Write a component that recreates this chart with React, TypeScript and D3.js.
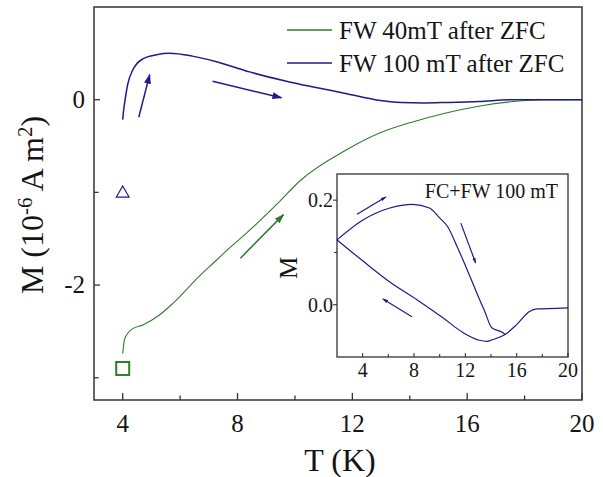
import React from 'react';
import * as d3 from 'd3';

// main panel: FW curves after ZFC
const blueT = [4.0, 4.03, 4.07, 4.17, 4.35, 4.7, 5.18, 5.63, 6.43, 7.27, 8.42, 9.7, 10.6, 11.8, 12.9, 13.7, 14.5, 15.3, 16.4, 17.6, 18.5, 20];
const blueM = [-0.215, -0.12, -0.03, 0.16, 0.32, 0.44, 0.485, 0.5, 0.47, 0.41, 0.3, 0.2, 0.14, 0.065, -0.005, -0.03, -0.035, -0.03, -0.02, 0, 0, 0];

const greenT = [4.0, 4.07, 4.35, 4.7, 5.29, 5.74, 6.68, 7.13, 7.83, 8.31, 9.46, 10.16, 11.8, 12.95, 14.1, 15.3, 16.4, 17.6, 18.7, 20];
const greenM = [-2.74, -2.58, -2.47, -2.43, -2.32, -2.2, -1.9, -1.77, -1.57, -1.44, -1.1, -0.88, -0.54, -0.36, -0.24, -0.14, -0.07, -0.02, 0, 0];

// inset: FC + FW 100 mT
const fcT = [2, 4.02, 6.12, 7.9, 9.2, 10.0, 10.6, 11.4, 12.0, 12.5, 12.9, 13.5, 14.06, 14.9, 15.1];
const fcM = [0.124, 0.162, 0.185, 0.192, 0.185, 0.166, 0.15, 0.109, 0.075, 0.046, 0.022, -0.012, -0.044, -0.053, -0.057];
const fwT = [2, 4.0, 6.2, 8.2, 10.25, 11.8, 13.1, 13.7, 14.1, 15.1, 16.0, 17.0, 17.6, 19.1, 20];
const fwM = [0.124, 0.084, 0.042, 0.01, -0.025, -0.053, -0.068, -0.07, -0.067, -0.057, -0.038, -0.013, -0.008, -0.007, -0.006];

// arrows [x1, y1, x2, y2] in data units
const mainArrows = [
  { c: '#1c1c8a', p: [4.56, -0.19, 4.94, 0.27] },
  { c: '#1c1c8a', p: [7.13, 0.2, 9.53, 0.02] },
  { c: '#2e7d2e', p: [8.1, -1.71, 9.6, -1.24] },
];
const insetArrows = [
  [3.56, 0.173, 5.8, 0.206],
  [11.65, 0.156, 12.8, 0.08],
  [7.84, -0.023, 5.58, 0.011],
];

const xTicks = [4, 8, 12, 16, 20];
const xMinor = [6, 10, 14, 18];
const yTicks = [0, -2];
const yMinor = [-1, -3];
const inXTicks = [4, 8, 12, 16, 20];
const inXMinor = [6, 10, 14, 18];
const inYTicks = [0.0, 0.2];
const inYMinor = [0.1];

const legend = [
  { label: 'FW 40mT after ZFC', color: '#2e7d2e' },
  { label: 'FW 100 mT after ZFC', color: '#1c1c8a' },
];

const BLUE = '#1c1c8a';
const GREEN = '#2e7d2e';
const AXIS = '#333';
const INK = '#151515';
const FONT = "'Liberation Serif', 'Times New Roman', serif";

export default function App() {
  const x = d3.scaleLinear().domain([3, 20]).range([94, 582]);
  const y = d3.scaleLinear().domain([-3.24, 1.0]).range([400, 7]);
  const ix = d3.scaleLinear().domain([2, 20]).range([337, 568]);
  const iy = d3.scaleLinear().domain([-0.1, 0.25]).range([357, 174]);

  const mainLine = d3.line().curve(d3.curveMonotoneX);
  const blue = mainLine(blueT.map((t, i) => [x(t), y(blueM[i])]) as any);
  const green = mainLine(greenT.map((t, i) => [x(t), y(greenM[i])]) as any);
  const inLine = d3.line().curve(d3.curveMonotoneX);
  const fc = inLine(fcT.map((t, i) => [ix(t), iy(fcM[i])]) as any);
  const fw = inLine(fwT.map((t, i) => [ix(t), iy(fwM[i])]) as any);

  const [x0, x1] = x.range();
  const [y0, y1] = y.range();

  return (
    <svg width={603} height={477} style={{ position: 'absolute', left: 0, top: 0, background: '#fff' }} fontFamily={FONT}>
      <defs>
        <marker id="hb" markerUnits="userSpaceOnUse" markerWidth={10} markerHeight={8} refX={9} refY={4} orient="auto">
          <path d="M0,0.5 L10,4 L0,7.5 Z" fill={BLUE} />
        </marker>
        <marker id="hg" markerUnits="userSpaceOnUse" markerWidth={10} markerHeight={8} refX={9} refY={4} orient="auto">
          <path d="M0,0.5 L10,4 L0,7.5 Z" fill={GREEN} />
        </marker>
        <marker id="hs" markerUnits="userSpaceOnUse" markerWidth={6} markerHeight={4} refX={5} refY={2} orient="auto">
          <path d="M0,0.3 L6,2 L0,3.7 Z" fill={BLUE} />
        </marker>
      </defs>

      {/* main frame */}
      <rect x={x0} y={y1} width={x1 - x0} height={y0 - y1} fill="none" stroke={AXIS} strokeWidth={1.5} />
      {xTicks.map(t => (
        <g key={'xt' + t}>
          <line x1={x(t)} x2={x(t)} y1={y0} y2={y0 - 7} stroke={AXIS} strokeWidth={1.3} />
          <text x={x(t)} y={432} fontSize={25} textAnchor="middle" fill={INK}>{t}</text>
        </g>
      ))}
      {xMinor.map(t => (
        <line key={'xm' + t} x1={x(t)} x2={x(t)} y1={y0} y2={y0 - 4.5} stroke={AXIS} strokeWidth={1.3} />
      ))}
      {yTicks.map(t => (
        <g key={'yt' + t}>
          <line x1={x0} x2={x0 + 6} y1={y(t)} y2={y(t)} stroke={AXIS} strokeWidth={1.3} />
          <text x={85} y={y(t) + 8} fontSize={25} textAnchor="end" fill={INK}>{t}</text>
        </g>
      ))}
      {yMinor.map(t => (
        <line key={'ym' + t} x1={x0} x2={x0 + 4.5} y1={y(t)} y2={y(t)} stroke={AXIS} strokeWidth={1.3} />
      ))}
      <text x={340} y={471} fontSize={32} textAnchor="middle" fill={INK}>T (K)</text>
      <text transform="translate(43,205) rotate(-90)" fontSize={32} textAnchor="middle" fill={INK}>
        M (10<tspan dy={-11} fontSize={21}>-6</tspan><tspan dy={11}> A m</tspan><tspan dy={-11} fontSize={21}>2</tspan><tspan dy={11}>)</tspan>
      </text>

      {/* curves */}
      <path d={green ?? ''} fill="none" stroke={GREEN} strokeWidth={1.1} />
      <path d={blue ?? ''} fill="none" stroke={BLUE} strokeWidth={1.5} />
      {mainArrows.map((a, i) => (
        <line key={'ma' + i} x1={x(a.p[0])} y1={y(a.p[1])} x2={x(a.p[2])} y2={y(a.p[3])}
          stroke={a.c} strokeWidth={1.5} markerEnd={a.c === GREEN ? 'url(#hg)' : 'url(#hb)'} />
      ))}
      <path d={d3.symbol(d3.symbolTriangle, 70)() ?? ''} transform={`translate(${x(4)},${y(-1.0) + 1})`}
        fill="none" stroke={BLUE} strokeWidth={1.2} />
      <rect x={x(4) - 6.5} y={y(-2.9) - 6.5} width={13} height={13} fill="none" stroke={GREEN} strokeWidth={2} />

      {/* legend */}
      {legend.map((l, i) => (
        <g key={l.label} transform={`translate(0,${30 + i * 33})`}>
          <line x1={287} x2={332} y1={0} y2={0} stroke={l.color} strokeWidth={1.3} />
          <text x={339} y={9} fontSize={25} fill={INK}>{l.label}</text>
        </g>
      ))}

      {/* inset */}
      <rect x={ix.range()[0]} y={iy.range()[1]} width={ix.range()[1] - ix.range()[0]} height={iy.range()[0] - iy.range()[1]}
        fill="#fff" stroke={AXIS} strokeWidth={1.3} />
      {inXTicks.map(t => (
        <g key={'ixt' + t}>
          <line x1={ix(t)} x2={ix(t)} y1={357} y2={353} stroke={AXIS} strokeWidth={1.1} />
          <text x={ix(t)} y={377} fontSize={20} textAnchor="middle" fill={INK}>{t}</text>
        </g>
      ))}
      {inXMinor.map(t => (
        <line key={'ixm' + t} x1={ix(t)} x2={ix(t)} y1={357} y2={354} stroke={AXIS} strokeWidth={1.1} />
      ))}
      {inYTicks.map(t => (
        <g key={'iyt' + t}>
          <line x1={337} x2={333} y1={iy(t)} y2={iy(t)} stroke={AXIS} strokeWidth={1.1} />
          <text x={333} y={iy(t) + 7} fontSize={20} textAnchor="end" fill={INK}>{t.toFixed(1)}</text>
        </g>
      ))}
      {inYMinor.map(t => (
        <line key={'iym' + t} x1={337} x2={334} y1={iy(t)} y2={iy(t)} stroke={AXIS} strokeWidth={1.1} />
      ))}
      <text transform="translate(297,268) rotate(-90)" fontSize={25} textAnchor="middle" fill={INK}>M</text>
      <text x={558} y={198} fontSize={20} textAnchor="end" fill={INK}>FC+FW 100 mT</text>
      <path d={fw ?? ''} fill="none" stroke={BLUE} strokeWidth={1.2} />
      <path d={fc ?? ''} fill="none" stroke={BLUE} strokeWidth={1.2} />
      {insetArrows.map((a, i) => (
        <line key={'ia' + i} x1={ix(a[0])} y1={iy(a[1])} x2={ix(a[2])} y2={iy(a[3])}
          stroke={BLUE} strokeWidth={1.2} markerEnd="url(#hs)" />
      ))}
    </svg>
  );
}
